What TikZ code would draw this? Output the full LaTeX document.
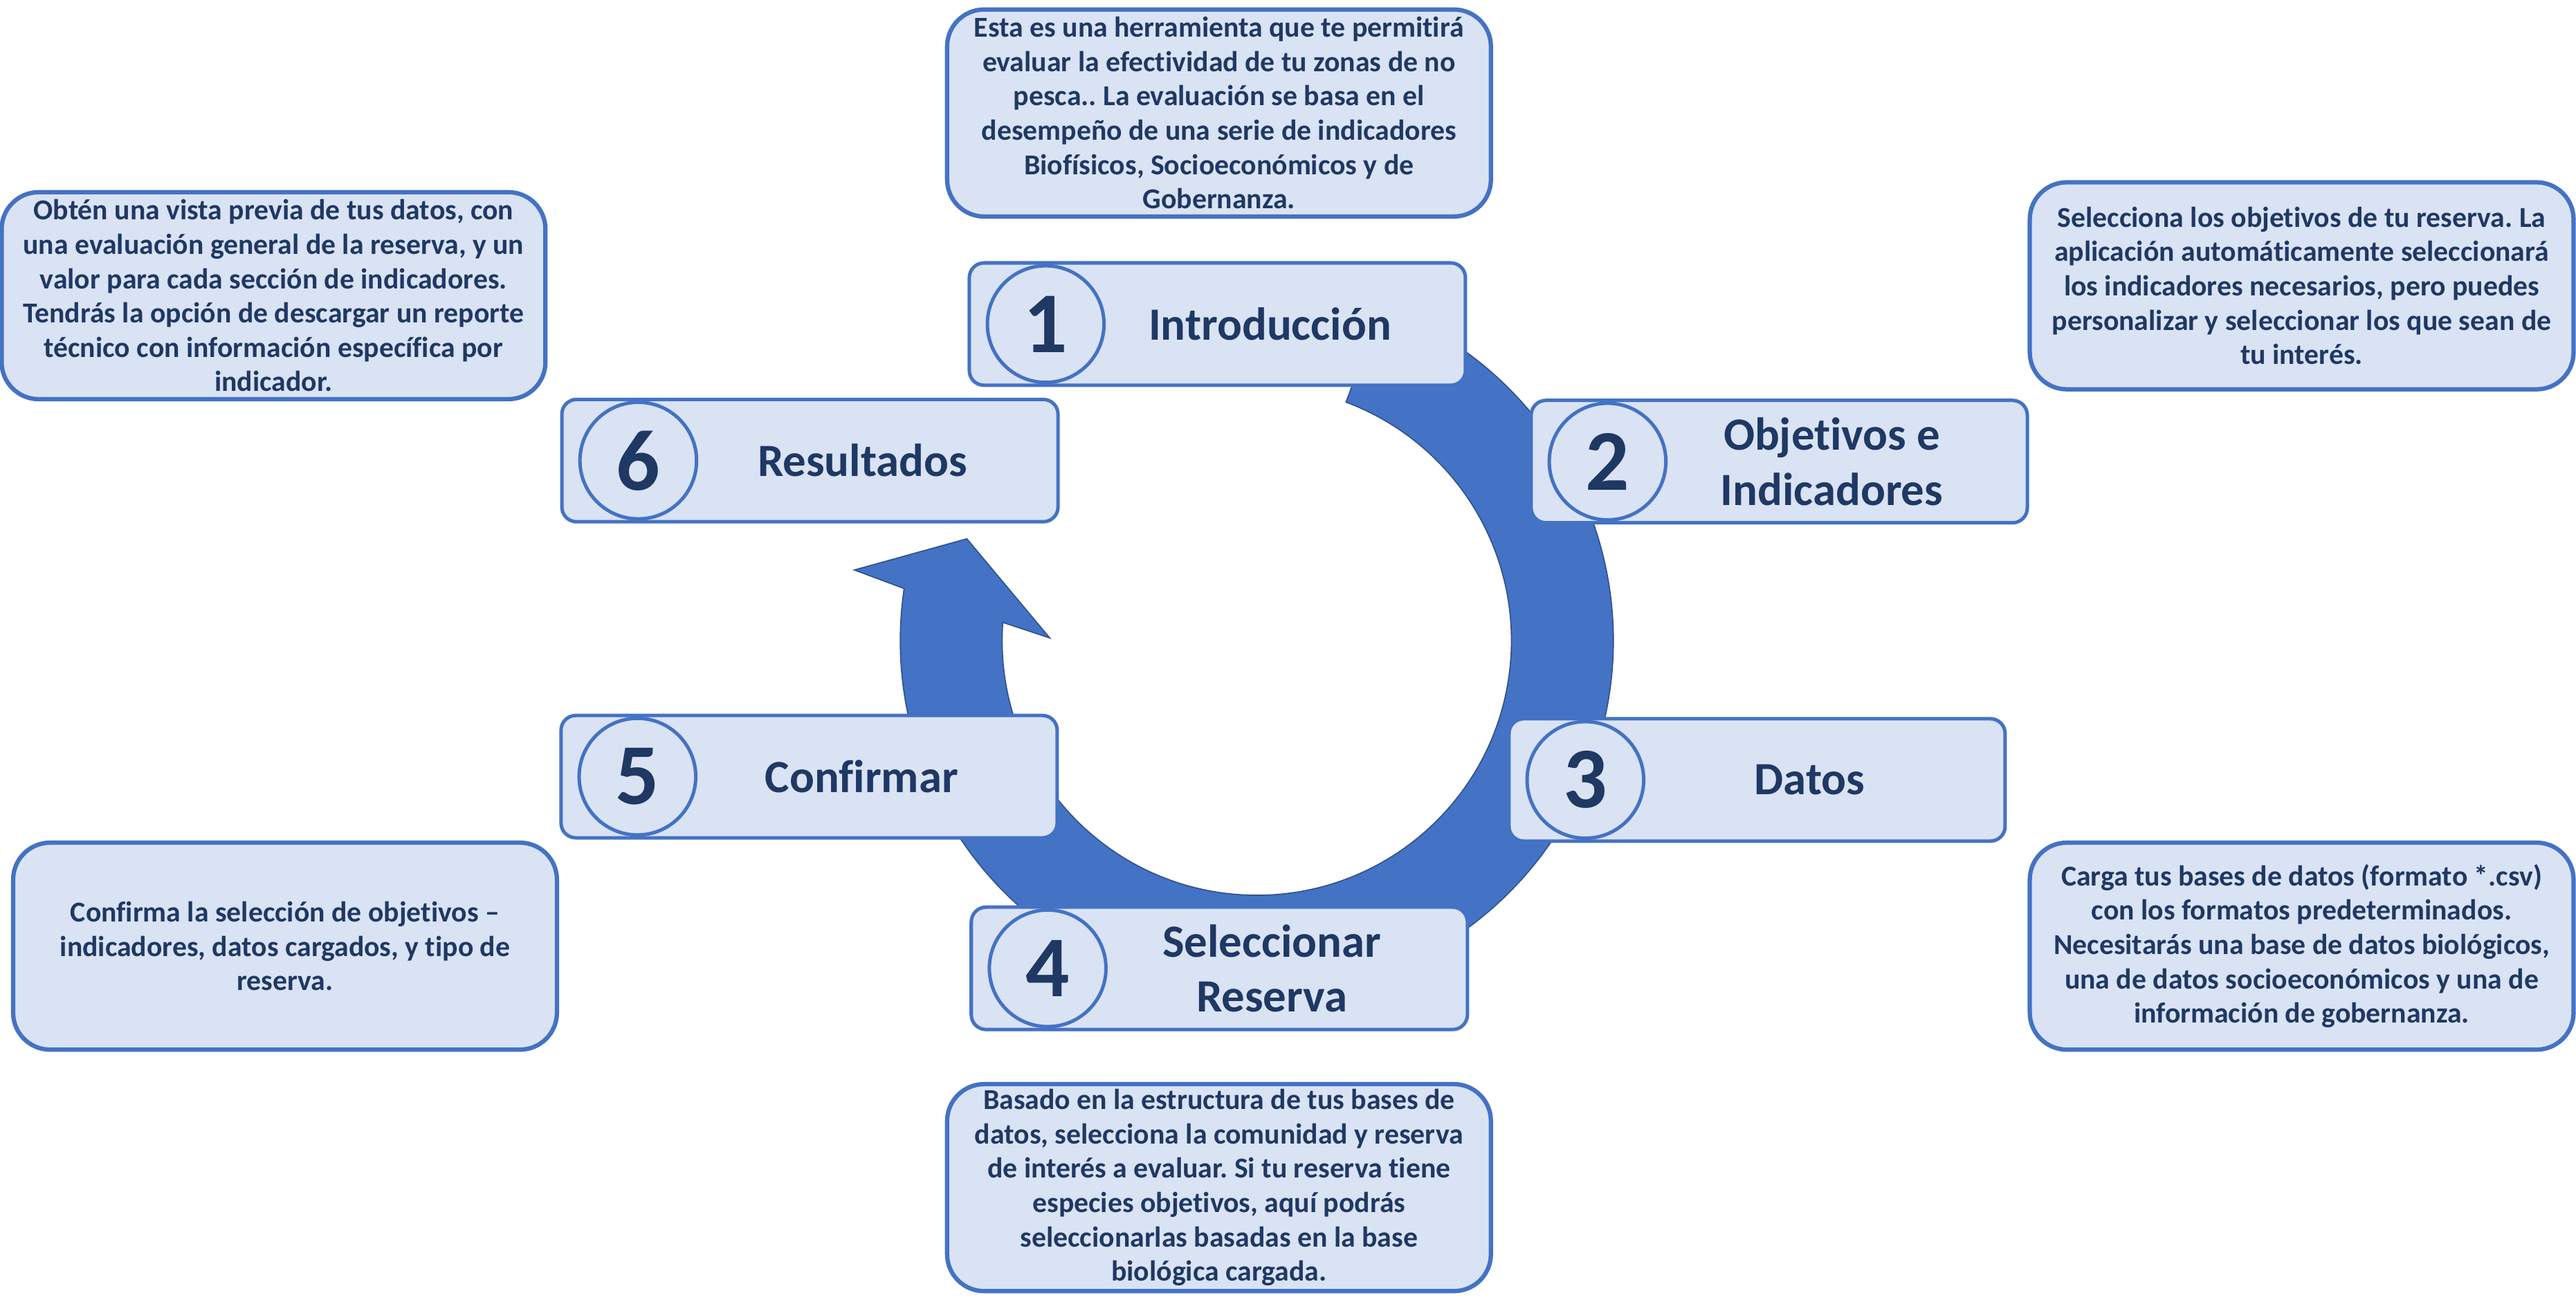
\documentclass[tikz,border=0pt]{standalone}
\usepackage{fontspec}
\setmainfont{Carlito}[Ligatures=NoCommon]
\usetikzlibrary{positioning}
\frenchspacing

\begin{document}
\begin{tikzpicture}[
  descbox/.style={draw=r68g114b196, line width=1.5pt, fill=r218g227b243,
    rounded corners=0.45cm, minimum width=6.62cm, minimum height=2.52cm,
    inner sep=0pt, align=center, text=r31g56b100,
    font=\bfseries\fontsize{10}{11.9}\selectfont},
  stepbox/.style={draw=r68g114b196, line width=1.2pt, fill=r218g227b243,
    rounded corners=0.18cm, minimum width=6.04cm, minimum height=1.49cm,
    inner sep=0pt},
  stepnum/.style={circle, draw=r68g114b196, line width=1.2pt,
    minimum size=1.42cm, inner sep=0pt, text=r31g56b100,
    font=\bfseries\fontsize{30}{30}\selectfont},
  steplabel/.style={align=center, text=r31g56b100,
    font=\bfseries\fontsize{16}{19}\selectfont},
  ringarrow/.style={fill=r68g114b196, draw=r47g82b143, line width=0.4pt}
]
% \clip (0,0) rectangle (31.360000,15.954000);
\useasboundingbox (0.000000,0.000000) rectangle (31.360000,15.954000);

% Changing color 68 114 196
\definecolor{r68g114b196}{rgb}{0.266667,0.447059,0.768627}%
% Changing color 218 227 243
\definecolor{r218g227b243}{rgb}{0.854902,0.890196,0.952941}%
% Changing color 31 56 100
\definecolor{r31g56b100}{rgb}{0.121569,0.219608,0.392157}%
% Changing color 47 82 143
\definecolor{r47g82b143}{rgb}{0.184314,0.321569,0.560784}%

% Filling circular arrow
\coordinate (ringc) at (15.300000,8.154000);
\coordinate (barbout) at (10.400000,9.014000);
\coordinate (tipc) at (11.770000,9.394000);
\coordinate (barbin) at (12.780000,8.186000);
\filldraw [ringarrow] ([shift={(69.5:4.34cm)}]ringc)
  arc [start angle=69.5, end angle=-188.4, radius=4.34cm]
  -- (barbout) -- (tipc) -- (barbin)
  -- ([shift={(-184.1:3.10cm)}]ringc)
  arc [start angle=-184.1, end angle=69.5, radius=3.10cm] -- cycle;%

% Drawing step box 1
\node [stepbox] (s1) at (14.820000,12.008000) {};%
\node [stepnum, right=0.22cm of s1.west] (n1) {1};%
\node [steplabel] (l1) at ([xshift=0.64cm]s1.center) {Introducción};%

% Drawing step box 2
\node [stepbox] (s2) at (21.660000,10.334000) {};%
\node [stepnum, right=0.22cm of s2.west] (n2) {2};%
\node [steplabel] (l2) at ([xshift=0.64cm]s2.center) {Objetivos e\\Indicadores};%

% Drawing step box 3
\node [stepbox] (s3) at (21.390000,6.458000) {};%
\node [stepnum, right=0.22cm of s3.west] (n3) {3};%
\node [steplabel] (l3) at ([xshift=0.64cm]s3.center) {Datos};%

% Drawing step box 4
\node [stepbox] (s4) at (14.844000,4.164000) {};%
\node [stepnum, right=0.22cm of s4.west] (n4) {4};%
\node [steplabel] (l4) at ([xshift=0.64cm]s4.center) {Seleccionar\\Reserva};%

% Drawing step box 5
\node [stepbox] (s5) at (9.850000,6.498000) {};%
\node [stepnum, right=0.22cm of s5.west] (n5) {5};%
\node [steplabel] (l5) at ([xshift=0.64cm]s5.center) {Confirmar};%

% Drawing step box 6
\node [stepbox] (s6) at (9.860000,10.346000) {};%
\node [stepnum, right=0.22cm of s6.west] (n6) {6};%
\node [steplabel] (l6) at ([xshift=0.64cm]s6.center) {Resultados};%

% Marking description of step 1
\node [descbox] (d1) at (14.840000,14.578000) {Esta es una herramienta que te permitirá\\evaluar la efectividad de tu zonas de no\\pesca.. La evaluación se basa en el\\desempeño de una serie de indicadores\\Biofísicos, Socioeconómicos y de\\Gobernanza.};%

% Marking description of step 2
\node [descbox] (d2) at (28.020000,12.474000) {Selecciona los objetivos de tu reserva. La\\aplicación automáticamente seleccionará\\los indicadores necesarios, pero puedes\\personalizar y seleccionar los que sean de\\tu interés.};%

% Marking description of step 3
\node [descbox] (d3) at (28.020000,4.434000) {Carga tus bases de datos (formato *.csv)\\con los formatos predeterminados.\\Necesitarás una base de datos biológicos,\\una de datos socioeconómicos y una de\\información de gobernanza.};%

% Marking description of step 4
\node [descbox] (d4) at (14.840000,1.494000) {Basado en la estructura de tus bases de\\datos, selecciona la comunidad y reserva\\de interés a evaluar. Si tu reserva tiene\\especies objetivos, aquí podrás\\seleccionarlas basadas en la base\\biológica cargada.};%

% Marking description of step 5
\node [descbox] (d5) at (3.470000,4.434000) {Confirma la selección de objetivos –\\indicadores, datos cargados, y tipo de\\reserva.};%

% Marking description of step 6
\node [descbox] (d6) at (3.330000,12.354000) {Obtén una vista previa de tus datos, con\\una evaluación general de la reserva, y un\\valor para cada sección de indicadores.\\Tendrás la opción de descargar un reporte\\técnico con información específica por\\indicador.};%
\end{tikzpicture}
\end{document}
